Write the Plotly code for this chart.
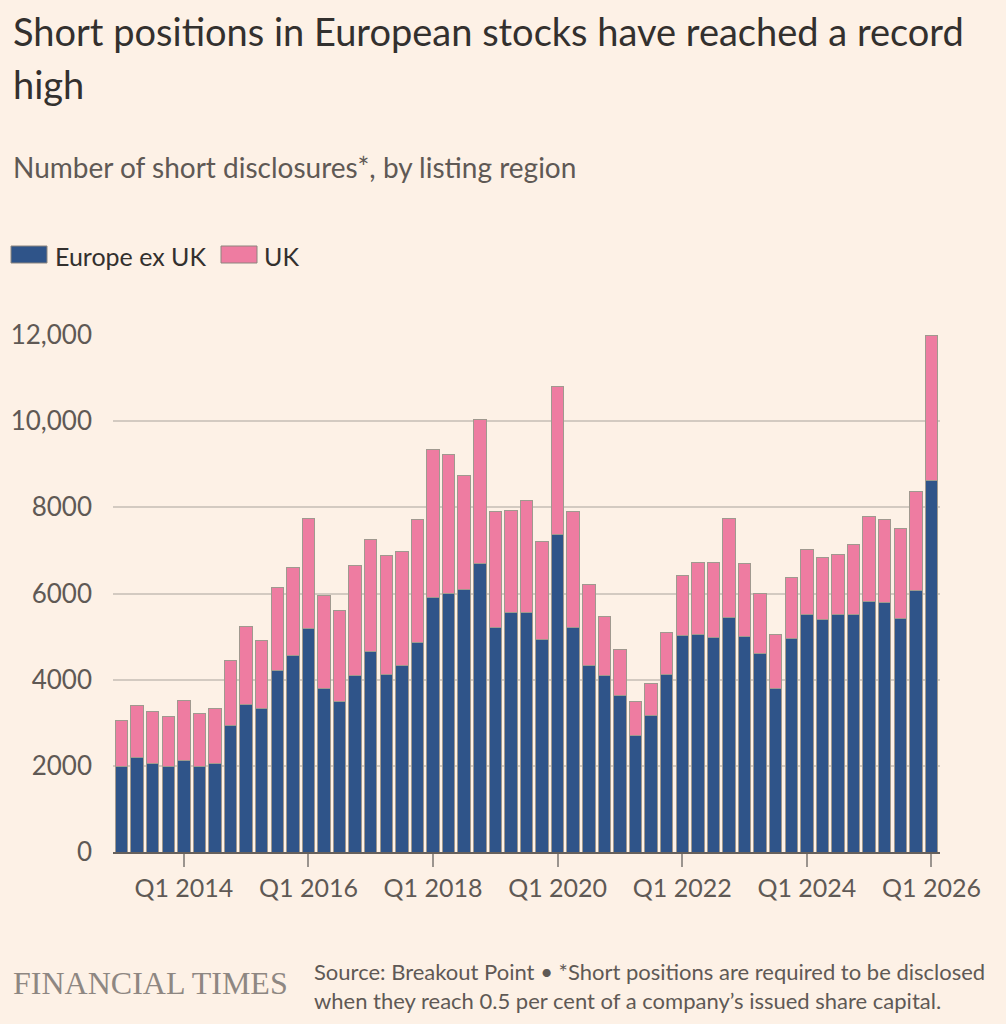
import plotly.graph_objects as go

# Short disclosures per quarter, Q1 2013 .. Q1 2026
quarters = [f"Q{q} {y}" for y in range(2013, 2027) for q in range(1, 5)][:53]

europe_ex_uk = [1978, 2202, 2064, 1978, 2116, 1996, 2064, 2933, 3424, 3329, 4206, 4559,
                5178, 3793, 3484, 4103, 4645, 4129, 4335, 4860, 5910, 5996, 6082, 6692,
                5221, 5548, 5565, 4929, 7381, 5204, 4335, 4086, 3639, 2710, 3166, 4129,
                5024, 5058, 4989, 5437, 4998, 4619, 3802, 4955, 5514, 5393, 5523, 5523,
                5824, 5781, 5428, 6073, 8628]
uk = [1067, 1204, 1196, 1170, 1411, 1221, 1265, 1523, 1815, 1591, 1944, 2039,
      2564, 2160, 2125, 2538, 2615, 2744, 2650, 2856, 3423, 3234, 2658, 3347,
      2676, 2383, 2598, 2279, 3423, 2701, 1884, 1376, 1058, 791, 748, 972,
      1393, 1669, 1721, 2305, 1694, 1377, 1256, 1428, 1514, 1437, 1393, 1608,
      1969, 1926, 2090, 2297, 3355]

series_names = ["Europe ex UK", "UK"]
x_ticks = ["Q1 2014", "Q1 2016", "Q1 2018", "Q1 2020", "Q1 2022", "Q1 2024", "Q1 2026"]
y_ticks = [0, 2000, 4000, 6000, 8000, 10000, 12000]
y_labels = ["0", "2000", "4000", "6000", "8000", "10,000", "12,000"]

title = "Short positions in European stocks have reached a record"
title2 = "high"
subtitle = "Number of short disclosures*, by listing region"
source1 = "Source: Breakout Point • *Short positions are required to be disclosed"
source2 = "when they reach 0.5 per cent of a company’s issued share capital."

BG = "#FDF1E6"
BLUE = "#2F5489"
PINK = "#EE7CA1"
EDGE = "#A0998F"
TEXT = "#33302E"
MUTED = "#5F5955"
FONT = "Lato"

W, H = 1006, 1024
L, R, T, B = 113, 940, 335, 852


def px_x(p):
    return (p - L) / (R - L)


def px_y(p):
    return (B - p) / (B - T)


fig = go.Figure()
for name, vals, col in [(series_names[0], europe_ex_uk, BLUE), (series_names[1], uk, PINK)]:
    fig.add_trace(go.Bar(x=quarters, y=vals, name=name, marker_color=col,
                         marker_line_color=EDGE, marker_line_width=1,
                         showlegend=False))

notes = [
    (title, 11, 31, 38, TEXT, FONT),
    (title2, 11, 84, 38, TEXT, FONT),
    (subtitle, 11, 167, 28, MUTED, FONT),
    (series_names[0], 53, 256, 25, TEXT, FONT),
    (series_names[1], 262, 256, 25, TEXT, FONT),
    ("FINANCIAL TIMES", 11, 983, 32, "#8E8782", "Liberation Serif"),
    (source1, 312, 971, 22, MUTED, FONT),
    (source2, 312, 1000, 22, MUTED, FONT),
]
for txt, x, y, size, col, fam in notes:
    fig.add_annotation(text=txt, xref="paper", yref="paper", x=px_x(x), y=px_y(y),
                       xanchor="left", yanchor="middle", showarrow=False,
                       font=dict(size=size, color=col, family=fam))

# legend swatches
for x0, col in [(11, BLUE), (221, PINK)]:
    fig.add_shape(type="rect", xref="paper", yref="paper",
                  x0=px_x(x0), x1=px_x(x0 + 36), y0=px_y(263), y1=px_y(246),
                  fillcolor=col, line=dict(color="#8C857E", width=1))

fig.update_layout(
    width=W, height=H,
    margin=dict(l=L, r=W - R, t=T, b=H - B),
    paper_bgcolor=BG, plot_bgcolor=BG,
    barmode="stack", bargap=0.2,
    font=dict(family=FONT, color=MUTED),
)
fig.update_xaxes(type="category", tickvals=x_ticks, ticktext=x_ticks,
                 ticks="outside", ticklen=13, tickcolor="#9B948E", tickwidth=1.5,
                 showline=True, linecolor="#66605C", linewidth=1.5,
                 showgrid=False, tickfont=dict(size=25, color=MUTED),
                 range=[-0.55, 52.55])
fig.update_yaxes(range=[0, 12000], tickvals=y_ticks, ticktext=y_labels,
                 showgrid=True, gridcolor="#D3CAC1", gridwidth=1.5,
                 zeroline=False, ticks="", ticklabelstandoff=20,
                 tickfont=dict(size=26, color=MUTED))

# drop the browser's default 8px page margin so the figure sits at 0,0
fig.write_html("out.html", config={"displayModeBar": False},
               post_script="document.body.style.margin='0';")
